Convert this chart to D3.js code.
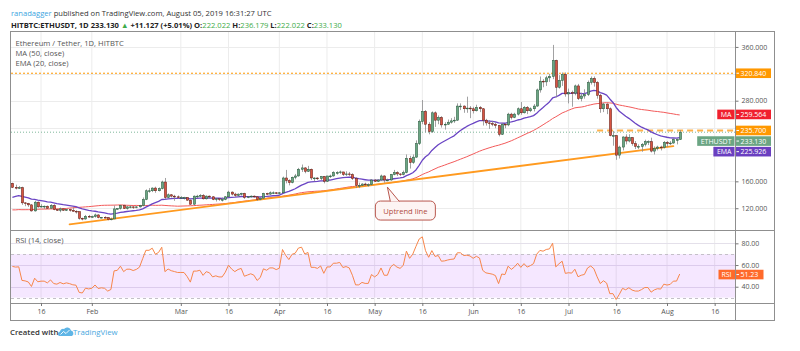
<!DOCTYPE html>
<html>
<head>
<meta charset="utf-8">
<script src="https://cdn.jsdelivr.net/npm/d3@7"></script>
<style>
body { margin: 0; background: #fff; }
svg { display: block; font-family: "Open Sans", sans-serif; }
</style>
</head>
<body>
<svg id="chart" width="800" height="351"></svg>
<script>
// daily ETH/USDT candles, 2019-01-07 .. 2019-08-05 (open = previous close)
var startDate = "2019-01-07";
var firstOpen = 157;
var closes = [
  151,150,150.5,128,127,125,116,129,122,123,123,120,124,118,117,119,117,118,117,115.5,115,105,104,108,107,
  107.5,110,106,106.5,106,103,104,119,119.5,124,119.5,122,122,121,122,124,133,146,146,150,146,149,159,136,140,138,137,136,
  136,136,132,126,138,138,139,134,138,137,133,134,133,133,137,144,141,139,141,142,136,137,138,137,133,135,142,141,143,143,142,
  143,165,161,158,166,168,178,180,175,178,165,165,164,167,160,168,168,173,173,174,170,171,170,164,154,154,156,155,155,162,
  160,162,168,162,162,170,173,171,170,173,194,188,196,216,249,264,245,234,262,251,255,244,245,248,250,251,272,272,268,269,268,
  265,270,268,251,247,246,245,243,230,245,244,260,255,260,268,262,270,265,268,272,296,309,308,314,316,340,300,310,319,290,
  292,291,302,283,287,289,307,313,307,288,268,275,268,228,228,199,211,226,220,225,216,212,212,215,219,219,205,209,211,210,218,
  216,217,222,222.003,233.13
];
var highs = [
  158,155,153,152,129,128,126,131,130,126,124,124,126,126,119,121,120,119,119,121,117,115,106,110,110,
  109,112,111,107,108,107,106,124,120,125,125,123,124,123,123,125,136,148,150,151,152,151,161,165,142,141,140,139,
  138,137,136,133,139,140,141,141,139,139,138,135,135,136,138,146,145,143,142,143,143,138,139,139,138,136,143,143,145,145,144,
  144,167,177,163,167,171,180,185,181,183,179,166,166,168,168,168,170,175,175,176,174,175,174,172,166,158,157,158,157,163,
  163,163,170,169,164,171,177,175,172,176,200,198,200,221,252,281,266,248,264,264,258,257,248,252,254,256,276,276,273,286,272,
  271,274,272,269,253,251,250,248,244,247,247,262,262,262,270,278,272,272,270,275,298,316,312,317,320,363,341,318,322,322,
  298,295,304,305,292,297,310,316,316,309,290,277,276,270,235,229,213,227,230,230,226,220,215,217,222,221,225,212,213,213,220,
  220,220,224,224,236.179
];
var lows = [
  150,148,149,125,123,122,115,115,121,121,119,119,120,117,116,114,116,116,115,115,112,103,102,103,106,
  106,106,105,105,105,102,102,104,118,118,119,118,120,119,120,121,123,132,143,144,143,145,148,133,135,136,131,134,
  135,133,131,125,125,135,137,133,133,134,132,130,131,130,132,136,139,137,137,139,134,135,136,136,131,132,134,140,140,141,141,
  140,142,157,154,157,163,167,174,172,174,162,160,162,162,157,159,165,167,170,171,168,168,168,162,150,150,153,153,152,154,
  159,159,161,158,160,161,169,168,168,169,172,179,186,195,214,245,233,230,232,241,245,240,237,244,246,247,250,266,262,262,254,
  261,264,263,243,243,238,242,239,227,229,239,242,252,254,258,259,261,260,263,264,271,292,300,302,308,312,285,298,302,286,
  276,271,288,281,279,283,287,304,301,283,262,263,260,227,213,192,194,206,215,218,213,208,208,204,212,214,203,200,206,206,209,
  211,214,216,215,222.022
];
// closes before the visible window (2018-11-18 .. 2019-01-06), only used to warm up MA / EMA / RSI
var warmupCloses = [
  175,149,131,136,126,123,113,116,108,110,123,118,113,
  118,116,108,110,102,91,93,93,92,90,88,90,86,84,84,85,95,100,101,115,110,118,128,140,129,130,116,137,134,142,131,
  140,155,147,151,154,157
];

var priceGrid = [120, 160, 200, 240, 280, 320, 360];
var rsiGrid = [40, 60, 80];
var rsiBand = [30, 70];
var xTickDates = ["2019-01-16","2019-02-01","2019-03-01","2019-03-16","2019-04-01","2019-04-16","2019-05-01",
  "2019-05-16","2019-06-01","2019-06-16","2019-07-01","2019-07-16","2019-08-01","2019-08-16"];
var xTickLabels = ["16","Feb","Mar","16","Apr","16","May","16","Jun","16","Jul","16","Aug","16"];

var trendLine = [["2019-01-25", 96], ["2019-08-03", 212.5]];
var resistance = 320.84;
var supportStart = "2019-07-10", support = 235.7;
var uptrendNote = { date: "2019-05-05", value: 151.5, text: "Uptrend line" };

// last values printed on the price / rsi scales
var lastPrice = 233.130, lastMA = 259.564, lastEMA = 225.926, lastRSI = 51.23;

var svg = d3.select("#chart"),
    pLeft = 11, pRight = 735.5, pTop = 31, mainBottom = 230, rsiBottom = 303, axisBottom = 320, outerRight = 774.5;

var parse = d3.utcParse("%Y-%m-%d");
var t0 = parse(startDate);

var data = closes.map(function(c, i) {
  return { date: d3.utcDay.offset(t0, i), open: i ? closes[i - 1] : firstOpen, high: highs[i], low: lows[i], close: c };
});

var x = d3.scaleUtc()
    .domain([parse("2019-01-16"), parse("2019-08-01")])
    .range([41, 667]);

var y = d3.scaleLinear()
    .domain([87.6, 383.7])
    .range([mainBottom, pTop]);

var yr = d3.scaleLinear()
    .domain([25, 92.3])
    .range([rsiBottom, mainBottom]);

// indicators
var all = warmupCloses.concat(closes);
function sma(arr, n) {
  return arr.map(function(v, i) { return i < n - 1 ? null : d3.mean(arr.slice(i - n + 1, i + 1)); });
}
function ema(arr, n) {
  var k = 2 / (n + 1), e, out = [];
  arr.forEach(function(v, i) { e = i ? v * k + e * (1 - k) : v; out.push(e); });
  return out;
}
function rsi(arr, n) {
  var ag = 0, al = 0, out = [null];
  for (var i = 1; i < arr.length; i++) {
    var ch = arr[i] - arr[i - 1], g = Math.max(ch, 0), l = Math.max(-ch, 0);
    if (i <= n) { ag += g / n; al += l / n; }
    else { ag = (ag * (n - 1) + g) / n; al = (al * (n - 1) + l) / n; }
    out.push(i < n ? null : 100 - 100 / (1 + ag / al));
  }
  return out;
}
var skip = warmupCloses.length;
var ma50 = sma(all, 50).slice(skip),
    ema20 = ema(all, 20).slice(skip),
    rsi14 = rsi(all, 14).slice(skip);

// clips
var defs = svg.append("defs");
defs.append("clipPath").attr("id", "clipMain").append("rect")
    .attr("x", pLeft).attr("y", pTop).attr("width", pRight - pLeft).attr("height", mainBottom - pTop);
defs.append("clipPath").attr("id", "clipRsi").append("rect")
    .attr("x", pLeft).attr("y", mainBottom).attr("width", pRight - pLeft).attr("height", rsiBottom - mainBottom);

// header
var header = svg.append("g").attr("font-size", 7.6);
var h1 = header.append("text").attr("x", 11).attr("y", 16).attr("fill", "#333");
h1.append("tspan").attr("fill", "#3ba4e0").text("ranadagger");
h1.append("tspan").text(" published on TradingView.com, August 05, 2019 16:31:27 UTC");
var h2 = header.append("text").attr("x", 11).attr("y", 27.5).attr("fill", "#222").attr("font-weight", "bold");
h2.append("tspan").text("HITBTC:ETHUSDT, 1D  233.130 ");
h2.append("tspan").attr("fill", "#3eab49").text("\u25B2");
h2.append("tspan").text(" +11.127 (+5.01%) O:");
h2.append("tspan").attr("fill", "#3eab49").attr("font-weight", "normal").text("222.022");
h2.append("tspan").text(" H:");
h2.append("tspan").attr("fill", "#3eab49").attr("font-weight", "normal").text("236.179");
h2.append("tspan").text(" L:");
h2.append("tspan").attr("fill", "#3eab49").attr("font-weight", "normal").text("222.022");
h2.append("tspan").text(" C:");
h2.append("tspan").attr("fill", "#3eab49").attr("font-weight", "normal").text("233.130");

// grid
var grid = svg.append("g");
grid.selectAll(".vg").data(xTickDates).enter().append("line")
    .attr("x1", function(d) { return x(parse(d)); })
    .attr("x2", function(d) { return x(parse(d)); })
    .attr("y1", pTop).attr("y2", rsiBottom)
    .attr("stroke", "#ececec").attr("stroke-width", 1);
grid.selectAll(".hg").data(priceGrid).enter().append("line")
    .attr("x1", pLeft).attr("x2", pRight)
    .attr("y1", function(d) { return Math.round(y(d)) + 0.5; })
    .attr("y2", function(d) { return Math.round(y(d)) + 0.5; })
    .attr("stroke", "#ececec");

// rsi band + grid
svg.append("rect")
    .attr("x", pLeft).attr("width", pRight - pLeft)
    .attr("y", yr(rsiBand[1])).attr("height", yr(rsiBand[0]) - yr(rsiBand[1]))
    .attr("fill", "rgba(153,21,255,0.1)");
grid.selectAll(".rg").data(rsiGrid).enter().append("line")
    .attr("x1", pLeft).attr("x2", pRight)
    .attr("y1", function(d) { return Math.round(yr(d)) + 0.5; })
    .attr("y2", function(d) { return Math.round(yr(d)) + 0.5; })
    .attr("stroke", "#e4e0ea");
svg.selectAll(".band").data(rsiBand).enter().append("line")
    .attr("x1", pLeft).attr("x2", pRight)
    .attr("y1", function(d) { return Math.round(yr(d)) + 0.5; })
    .attr("y2", function(d) { return Math.round(yr(d)) + 0.5; })
    .attr("stroke", "#c4c0c8").attr("stroke-dasharray", "3,3");

// main pane content
var main = svg.append("g").attr("clip-path", "url(#clipMain)");

main.append("line")
    .attr("x1", pLeft).attr("x2", pRight)
    .attr("y1", y(resistance)).attr("y2", y(resistance))
    .attr("stroke", "#ff9800").attr("stroke-width", 1).attr("stroke-dasharray", "2,2");

main.append("line")
    .attr("x1", pLeft).attr("x2", pRight)
    .attr("y1", y(lastPrice)).attr("y2", y(lastPrice))
    .attr("stroke", "#7fb79a").attr("stroke-width", 1).attr("stroke-dasharray", "1,2");

main.append("line")
    .attr("x1", x(parse(supportStart))).attr("x2", pRight)
    .attr("y1", y(support)).attr("y2", y(support))
    .attr("stroke", "#ffb14a").attr("stroke-width", 2).attr("stroke-dasharray", "6,4");

var lineMA = d3.line().defined(function(d, i) { return ma50[i] != null; })
    .x(function(d) { return x(d.date); }).y(function(d, i) { return y(ma50[i]); });
var lineEMA = d3.line()
    .x(function(d) { return x(d.date); }).y(function(d, i) { return y(ema20[i]); });

main.append("path").datum(data)
    .attr("fill", "none").attr("stroke", "#f25a5a").attr("stroke-width", 1)
    .attr("d", lineMA);

main.append("line")
    .attr("x1", x(parse(trendLine[0][0]))).attr("y1", y(trendLine[0][1]))
    .attr("x2", x(parse(trendLine[1][0]))).attr("y2", y(trendLine[1][1]))
    .attr("stroke", "#ff9a1f").attr("stroke-width", 1.8).attr("stroke-linecap", "round");

main.append("path").datum(data)
    .attr("fill", "none").attr("stroke", "#6a45c4").attr("stroke-width", 1.3)
    .attr("stroke-linejoin", "round")
    .attr("d", lineEMA);

var bw = 2.2;
var candle = main.selectAll(".c").data(data).enter().append("g");
candle.append("line")
    .attr("x1", function(d) { return Math.round(x(d.date)) + 0.5; })
    .attr("x2", function(d) { return Math.round(x(d.date)) + 0.5; })
    .attr("y1", function(d) { return y(d.high); })
    .attr("y2", function(d) { return y(d.low); })
    .attr("stroke", "#8a8a8c").attr("stroke-width", 0.8);
candle.append("rect")
    .attr("x", function(d) { return Math.round(x(d.date)) + 0.5 - bw / 2; })
    .attr("width", bw)
    .attr("y", function(d) { return y(Math.max(d.open, d.close)); })
    .attr("height", function(d) { return Math.max(0.8, Math.abs(y(d.open) - y(d.close))); })
    .attr("fill", function(d) { return d.close >= d.open ? "#6ba583" : "#d75442"; })
    .attr("stroke", function(d) { return d.close >= d.open ? "#225437" : "#5b1a13"; })
    .attr("stroke-width", 0.5);

// rsi line
var lineRSI = d3.line()
    .x(function(d) { return x(d.date); }).y(function(d, i) { return yr(rsi14[i]); });
svg.append("g").attr("clip-path", "url(#clipRsi)")
  .append("path").datum(data)
    .attr("fill", "none").attr("stroke", "#f7864a").attr("stroke-width", 1)
    .attr("stroke-linejoin", "round")
    .attr("d", lineRSI);

// uptrend callout
var ax = x(parse(uptrendNote.date)), ay = y(uptrendNote.value);
var note = svg.append("g");
note.append("rect")
    .attr("x", ax - 12).attr("y", ay + 14).attr("width", 60).attr("height", 19).attr("rx", 5)
    .attr("fill", "#fdf4f3").attr("stroke", "#b9574e").attr("stroke-width", 1);
note.append("path")
    .attr("d", "M" + (ax + 3) + "," + (ay + 14.5) + "L" + ax + "," + ay + "L" + (ax + 12) + "," + (ay + 14.5))
    .attr("fill", "#fdf4f3").attr("stroke", "#b9574e").attr("stroke-width", 1);
note.append("text")
    .attr("x", ax + 18).attr("y", ay + 26.5).attr("text-anchor", "middle")
    .attr("font-size", 7.6).attr("fill", "#b04a40").text(uptrendNote.text);

// legends
var leg = svg.append("g").attr("font-size", 7.6).attr("fill", "#555");
leg.append("text").attr("x", 15.5).attr("y", 46).text("Ethereum / Tether, 1D, HITBTC");
leg.append("text").attr("x", 15.5).attr("y", 56).text("MA (50, close)");
leg.append("text").attr("x", 15.5).attr("y", 66).text("EMA (20, close)");
leg.append("text").attr("x", 15.5).attr("y", 242.5).text("RSI (14, close)");

// frame
var frame = svg.append("g").attr("fill", "none").attr("stroke", "#8f8f8f").attr("stroke-width", 1);
frame.append("rect").attr("x", pLeft - 0.5).attr("y", pTop + 0.5).attr("width", outerRight - pLeft + 0.5).attr("height", axisBottom - pTop);
frame.append("line").attr("x1", pRight).attr("x2", pRight).attr("y1", pTop).attr("y2", axisBottom);
frame.append("line").attr("x1", pLeft).attr("x2", outerRight).attr("y1", mainBottom + 0.5).attr("y2", mainBottom + 0.5);
frame.append("line").attr("x1", pLeft).attr("x2", outerRight).attr("y1", rsiBottom + 0.5).attr("y2", rsiBottom + 0.5);

// price scale labels
var labels = [
  { v: resistance, text: d3.format(".3f")(resistance), color: "#ff9800" },
  { v: lastMA, text: d3.format(".3f")(lastMA), color: "#f0202e", tag: "MA" },
  { v: support, text: d3.format(".3f")(support), color: "#ff9800" },
  { v: lastPrice, text: d3.format(".3f")(lastPrice), color: "#6ba583", tag: "ETHUSDT" },
  { v: lastEMA, text: d3.format(".3f")(lastEMA), color: "#6a3fc0", tag: "EMA" }
];
var prevY = -100;
labels.forEach(function(l) { l.y = Math.max(y(l.v), prevY + 10.6); prevY = l.y; });

var yAxis = d3.axisRight(y).tickValues(priceGrid).tickSize(3).tickFormat(d3.format(".3f"));
svg.append("g").attr("transform", "translate(" + pRight + ",0)").call(customYAxis);

function customYAxis(g) {
  g.call(yAxis);
  g.select(".domain").remove();
  g.selectAll(".tick line").attr("stroke", "#777");
  g.selectAll(".tick text").attr("x", 6).attr("font-size", 7).attr("fill", "#555").attr("font-family", "Open Sans")
    .style("display", function(d) {
      return labels.some(function(l) { return Math.abs(l.y - y(d)) < 9; }) ? "none" : null;
    });
}

var lab = svg.append("g").selectAll(".pl").data(labels).enter().append("g")
    .attr("transform", function(d) { return "translate(0," + d.y + ")"; });
lab.append("rect").attr("x", pRight + 0.5).attr("y", -4.8).attr("width", 35).attr("height", 9.6)
    .attr("fill", function(d) { return d.color; });
lab.append("line").attr("x1", pRight + 1).attr("x2", pRight + 3.5).attr("y1", 0).attr("y2", 0).attr("stroke", "#fff");
lab.append("text").attr("x", pRight + 5).attr("y", 2.6).attr("font-size", 7).attr("fill", "#fff")
    .text(function(d) { return d.text; });
var tagged = lab.filter(function(d) { return d.tag; });
tagged.append("text").attr("x", pRight - 4).attr("y", 2.6).attr("font-size", 7).attr("fill", "#fff")
    .attr("text-anchor", "end").attr("class", "tagtext").text(function(d) { return d.tag; });
tagged.each(function() {
  var t = d3.select(this).select(".tagtext"), w = t.node().getComputedTextLength();
  d3.select(this).insert("rect", ".tagtext")
      .attr("x", pRight - w - 7.5).attr("y", -4.8).attr("width", w + 6.5).attr("height", 9.6)
      .attr("fill", function(d) { return d.color; });
});

// rsi scale
var rAxis = d3.axisRight(yr).tickValues(rsiGrid).tickSize(3).tickFormat(d3.format(".2f"));
svg.append("g").attr("transform", "translate(" + pRight + ",0)").call(customRsiAxis);
function customRsiAxis(g) {
  g.call(rAxis);
  g.select(".domain").remove();
  g.selectAll(".tick line").attr("stroke", "#777");
  g.selectAll(".tick text").attr("x", 6).attr("font-size", 7).attr("fill", "#555").attr("font-family", "Open Sans");
}
var rl = svg.append("g").attr("transform", "translate(0," + yr(lastRSI) + ")");
rl.append("rect").attr("x", pRight + 0.5).attr("y", -4.8).attr("width", 27.5).attr("height", 9.6).attr("fill", "#ff6a2b");
rl.append("rect").attr("x", pRight - 17).attr("y", -4.8).attr("width", 16.5).attr("height", 9.6).attr("fill", "#ff6a2b");
rl.append("line").attr("x1", pRight + 1).attr("x2", pRight + 3.5).attr("y1", 0).attr("y2", 0).attr("stroke", "#fff");
rl.append("text").attr("x", pRight + 5).attr("y", 2.6).attr("font-size", 7).attr("fill", "#fff").text(d3.format(".2f")(lastRSI));
rl.append("text").attr("x", pRight - 4).attr("y", 2.6).attr("font-size", 7).attr("fill", "#fff").attr("text-anchor", "end").text("RSI");

// time axis
var xAxis = d3.axisBottom(x)
    .tickValues(xTickDates.map(parse))
    .tickSize(3)
    .tickFormat(function(d, i) { return xTickLabels[i]; });
svg.append("g").attr("transform", "translate(0," + rsiBottom + ")").call(customXAxis);
function customXAxis(g) {
  g.call(xAxis);
  g.select(".domain").remove();
  g.selectAll(".tick line").attr("stroke", "#777");
  g.selectAll(".tick text").attr("y", 6).attr("font-size", 7).attr("fill", "#555").attr("font-family", "Open Sans");
}

// footer
var foot = svg.append("g").attr("font-size", 7.8);
foot.append("text").attr("x", 10).attr("y", 335).attr("fill", "#333").attr("font-weight", 600).text("Created with");
foot.append("path")
    .attr("d", "M59,336 h13 a3,3 0 0 0 -1,-5.5 a4,4 0 0 0 -7,-1.5 a3,3 0 0 0 -4,2.5 a2.5,2.5 0 0 0 -1,4.5 z")
    .attr("fill", "#5fb5e6");
foot.append("path")
    .attr("d", "M60.5,334.5 l3,-3 l2.5,2 l3.5,-3.5")
    .attr("fill", "none").attr("stroke", "#fff").attr("stroke-width", 0.9);
foot.append("text").attr("x", 73).attr("y", 335).attr("fill", "#4aa8e0").text("TradingView");
</script>
</body>
</html>
